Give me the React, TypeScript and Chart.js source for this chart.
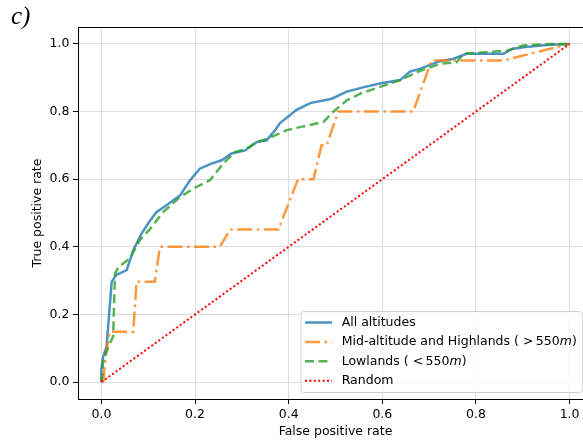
import { useEffect, useRef } from 'react';
import { Chart, registerables } from 'chart.js';

Chart.register(...registerables);

// ---- Data ----
const xTicks = [0, 0.2, 0.4, 0.6, 0.8, 1.0];
const yTicks = [0, 0.2, 0.4, 0.6, 0.8, 1.0];

const seriesNames = [
  'All altitudes',
  'Mid-altitude and Highlands ( > 550m)',
  'Lowlands ( < 550m)',
  'Random',
];

const allFpr = [0, 0, 0.004, 0.011, 0.022, 0.032, 0.054, 0.068, 0.086, 0.104, 0.118, 0.139, 0.168, 0.189, 0.21, 0.235, 0.257, 0.278, 0.307, 0.332, 0.353, 0.371, 0.381, 0.417, 0.446, 0.492, 0.524, 0.563, 0.595, 0.638, 0.659, 0.68, 0.723, 0.752, 0.78, 0.859, 0.877, 0.901, 0.951, 1.0];
const allTpr = [0, 0.04, 0.076, 0.105, 0.297, 0.317, 0.331, 0.39, 0.44, 0.478, 0.503, 0.523, 0.552, 0.596, 0.631, 0.646, 0.656, 0.676, 0.685, 0.71, 0.715, 0.745, 0.765, 0.805, 0.825, 0.838, 0.859, 0.873, 0.883, 0.893, 0.918, 0.926, 0.949, 0.956, 0.971, 0.971, 0.985, 0.99, 0.997, 1.0];

const midFpr = [0.004, 0.007, 0.011, 0.018, 0.068, 0.075, 0.114, 0.125, 0.253, 0.275, 0.378, 0.403, 0.42, 0.453, 0.47, 0.481, 0.506, 0.666, 0.705, 0.859, 0.916, 1.0];
const midTpr = [0, 0.046, 0.095, 0.149, 0.149, 0.297, 0.297, 0.4, 0.4, 0.451, 0.451, 0.54, 0.6, 0.6, 0.7, 0.7, 0.8, 0.8, 0.951, 0.951, 0.971, 1.0];

const lowFpr = [0, 0.002, 0.004, 0.015, 0.025, 0.029, 0.036, 0.061, 0.082, 0.104, 0.132, 0.168, 0.196, 0.232, 0.26, 0.285, 0.31, 0.332, 0.356, 0.396, 0.424, 0.474, 0.495, 0.524, 0.553, 0.595, 0.638, 0.68, 0.723, 0.759, 0.774, 0.866, 0.901, 0.958, 1.0];
const lowTpr = [0, 0.03, 0.066, 0.105, 0.135, 0.32, 0.34, 0.366, 0.42, 0.453, 0.503, 0.547, 0.572, 0.597, 0.646, 0.68, 0.69, 0.71, 0.72, 0.745, 0.754, 0.769, 0.799, 0.833, 0.853, 0.873, 0.893, 0.92, 0.941, 0.946, 0.971, 0.98, 0.995, 1.0, 1.0];

const randomFpr = [0, 1];
const randomTpr = [0, 1];

const FONT = "'DejaVu Sans', sans-serif";
const FS = 12.5;

function pts(xs: number[], ys: number[]) {
  return xs.map((x, i) => ({ x, y: ys[i] }));
}

export default function App() {
  const ref = useRef<HTMLCanvasElement>(null);

  useEffect(() => {
    const canvas = ref.current;
    if (!canvas) return;

    const framePlugin = {
      id: 'frame',
      afterDatasetsDraw(chart: any) {
        const { ctx, chartArea: a } = chart;
        ctx.save();
        ctx.strokeStyle = '#000';
        ctx.lineWidth = 1;
        const l = Math.round(a.left) + 0.5;
        const t = Math.round(a.top) + 0.5;
        const r = Math.round(a.right) + 0.5;
        const b = Math.round(a.bottom) + 0.5;
        ctx.strokeRect(l, t, r - l, b - t);
        ctx.restore();
      },
    };

    const legendPlugin = {
      id: 'customLegend',
      afterDraw(chart: any) {
        const { ctx } = chart;
        const ds = chart.data.datasets;
        const boxLeft = 301;
        const boxTop = 311.5;
        const rowH = 19.4;
        const firstRow = 322.5;
        const textX = 341.7;
        const normal = `${FS}px ${FONT}`;
        const ital = `italic ${FS}px ${FONT}`;
        ctx.save();
        let maxW = 0;
        const parts = seriesNames.map((name) => {
          const m = name.match(/^(.*[<>]) (\d+)(m)(\))$/);
          if (m)
            return [
              { t: m[1], f: normal, gap: 2.5 },
              { t: m[2], f: normal, gap: 0 },
              { t: m[3], f: ital, gap: 0 },
              { t: m[4], f: normal, gap: 0 },
            ];
          return [{ t: name, f: normal, gap: 0 }];
        });
        parts.forEach((segs) => {
          let w = 0;
          segs.forEach((s) => {
            ctx.font = s.f;
            w += ctx.measureText(s.t).width + s.gap;
          });
          maxW = Math.max(maxW, w);
        });
        const boxW = textX + maxW + 6 - boxLeft;
        const boxH = 81;
        const rad = 3;
        ctx.beginPath();
        ctx.moveTo(boxLeft + rad, boxTop);
        ctx.lineTo(boxLeft + boxW - rad, boxTop);
        ctx.arcTo(boxLeft + boxW, boxTop, boxLeft + boxW, boxTop + rad, rad);
        ctx.lineTo(boxLeft + boxW, boxTop + boxH - rad);
        ctx.arcTo(boxLeft + boxW, boxTop + boxH, boxLeft + boxW - rad, boxTop + boxH, rad);
        ctx.lineTo(boxLeft + rad, boxTop + boxH);
        ctx.arcTo(boxLeft, boxTop + boxH, boxLeft, boxTop + boxH - rad, rad);
        ctx.lineTo(boxLeft, boxTop + rad);
        ctx.arcTo(boxLeft, boxTop, boxLeft + rad, boxTop, rad);
        ctx.closePath();
        ctx.fillStyle = 'rgba(255,255,255,0.8)';
        ctx.fill();
        ctx.strokeStyle = '#d0d0d0';
        ctx.lineWidth = 1;
        ctx.stroke();

        parts.forEach((segs, i) => {
          const y = firstRow + i * rowH;
          const d = ds[i];
          ctx.save();
          ctx.strokeStyle = d.borderColor;
          ctx.lineWidth = d.borderWidth;
          ctx.setLineDash(d.borderDash || []);
          ctx.beginPath();
          ctx.moveTo(305, y);
          ctx.lineTo(332, y);
          ctx.stroke();
          ctx.restore();
          let x = textX;
          ctx.fillStyle = '#000';
          ctx.textBaseline = 'middle';
          ctx.textAlign = 'left';
          segs.forEach((s) => {
            ctx.font = s.f;
            ctx.fillText(s.t, x, y);
            x += ctx.measureText(s.t).width + s.gap;
          });
        });
        ctx.restore();
      },
    };

    const panelPlugin = {
      id: 'panelLabel',
      afterDraw(chart: any) {
        const { ctx } = chart;
        ctx.save();
        ctx.font = "italic 25px 'Liberation Serif', serif";
        ctx.fillStyle = '#000';
        ctx.textBaseline = 'alphabetic';
        ctx.textAlign = 'left';
        ctx.fillText('c)', 11, 24);
        ctx.restore();
      },
    };

    const tickFont = { family: FONT, size: FS };

    const chart = new Chart(canvas, {
      type: 'scatter',
      data: {
        datasets: [
          {
            label: seriesNames[0],
            data: pts(allFpr, allTpr),
            showLine: true,
            borderColor: 'rgba(31,119,180,0.8)',
            backgroundColor: 'rgba(31,119,180,0.8)',
            borderWidth: 2.5,
            pointRadius: 0,
            tension: 0,
            order: 3,
          },
          {
            label: seriesNames[1],
            data: pts(midFpr, midTpr),
            showLine: true,
            borderColor: 'rgba(255,127,14,0.8)',
            backgroundColor: 'rgba(255,127,14,0.8)',
            borderWidth: 2.5,
            borderDash: [15, 4.5, 2.5, 4.5],
            pointRadius: 0,
            tension: 0,
            order: 2,
          },
          {
            label: seriesNames[2],
            data: pts(lowFpr, lowTpr),
            showLine: true,
            borderColor: 'rgba(44,160,44,0.8)',
            backgroundColor: 'rgba(44,160,44,0.8)',
            borderWidth: 2.5,
            borderDash: [9, 4.5],
            pointRadius: 0,
            tension: 0,
            order: 1,
          },
          {
            label: seriesNames[3],
            data: pts(randomFpr, randomTpr),
            showLine: true,
            borderColor: '#ff0000',
            backgroundColor: '#ff0000',
            borderWidth: 2,
            borderDash: [2, 2.4],
            pointRadius: 0,
            tension: 0,
            order: 0,
          },
        ],
      },
      options: {
        animation: false,
        responsive: false,
        maintainAspectRatio: false,
        layout: { padding: { top: 27, right: 7, left: 0, bottom: 0 } },
        plugins: { legend: { display: false }, tooltip: { enabled: false } },
        scales: {
          x: {
            type: 'linear',
            min: -0.05,
            max: 1.05,
            afterBuildTicks: (s: any) => {
              s.ticks = xTicks.map((v) => ({ value: v }));
            },
            afterFit: (s: any) => {
              s.height = 45;
            },
            ticks: {
              font: tickFont,
              color: '#000',
              padding: 3,
              maxRotation: 0,
              callback: (v: any) => Number(v).toFixed(1),
            },
            grid: {
              color: '#dddddd',
              lineWidth: 1,
              tickLength: 5,
              tickColor: '#000',
              tickWidth: 1,
            },
            border: { display: false },
            title: {
              display: true,
              text: 'False positive rate',
              font: tickFont,
              color: '#000',
              padding: { top: 0, bottom: 5 },
            },
          },
          y: {
            type: 'linear',
            min: -0.05,
            max: 1.05,
            afterBuildTicks: (s: any) => {
              s.ticks = yTicks.map((v) => ({ value: v }));
            },
            afterFit: (s: any) => {
              s.width = 78;
            },
            ticks: {
              font: tickFont,
              color: '#000',
              padding: 3.5,
              callback: (v: any) => Number(v).toFixed(1),
            },
            grid: {
              color: '#dddddd',
              lineWidth: 1,
              tickLength: 5,
              tickColor: '#000',
              tickWidth: 1,
            },
            border: { display: false },
            title: {
              display: true,
              text: 'True positive rate',
              font: tickFont,
              color: '#000',
              padding: { top: 30, bottom: 0 },
            },
          },
        },
      },
      plugins: [framePlugin, legendPlugin, panelPlugin],
    } as any);

    return () => chart.destroy();
  }, []);

  return (
    <div
      style={{
        position: 'fixed',
        left: 0,
        top: 0,
        width: 583,
        height: 444,
        overflow: 'hidden',
        background: '#fff',
      }}
    >
      <canvas ref={ref} width={600} height={444} style={{ width: 600, height: 444, display: 'block' }} />
    </div>
  );
}
